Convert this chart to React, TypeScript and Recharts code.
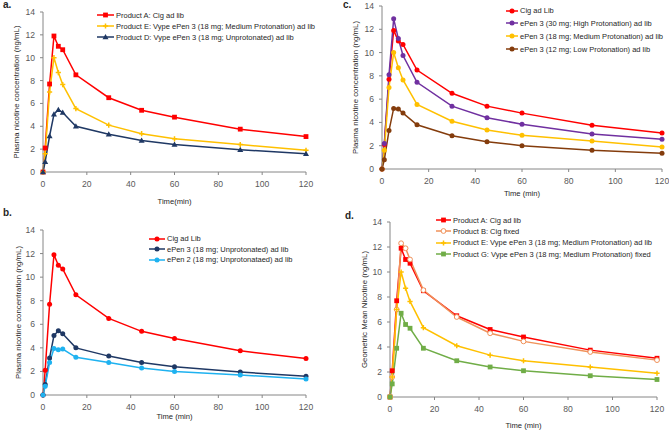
import React from 'react';
import { LineChart, Line, XAxis, YAxis } from 'recharts';

// sampling times (min) shared by every panel
const TIME_MIN = [0, 1, 3, 5, 7, 9, 15, 30, 45, 60, 90, 120];

// plasma nicotine, ng/mL
const CIG_AD_LIB = [0, 2.1, 7.7, 11.9, 11.0, 10.7, 8.5, 6.5, 5.4, 4.8, 3.75, 3.1];
const CIG_FIXED = [0, 1.6, 7.0, 12.3, 11.9, 11.0, 8.55, 6.4, 5.1, 4.45, 3.6, 2.95];
const EPEN3_MEDIUM = [0, 1.6, 7.0, 10.0, 8.7, 7.65, 5.55, 4.1, 3.35, 2.9, 2.4, 1.9];
const EPEN3_MEDIUM_FIXED = [0, 1.05, 3.9, 6.7, 5.8, 5.5, 3.9, 2.9, 2.4, 2.1, 1.7, 1.4];
const EPEN3_UNPROT = [0, 0.9, 3.15, 5.05, 5.45, 5.2, 4.0, 3.3, 2.75, 2.4, 1.95, 1.6];
const EPEN2_UNPROT = [0, 0.75, 2.75, 3.95, 3.85, 3.9, 3.2, 2.75, 2.3, 2.0, 1.7, 1.35];
const EPEN3_HIGH = [0, 2.2, 8.1, 12.9, 11.2, 9.75, 7.45, 5.4, 4.4, 3.85, 3.0, 2.55];
const EPEN3_LOW = [0, 0.8, 3.3, 5.2, 5.15, 4.8, 3.8, 2.85, 2.35, 2.0, 1.6, 1.35];

const X_TICKS = [0, 20, 40, 60, 80, 100, 120];
const Y_TICKS = [0, 2, 4, 6, 8, 10, 12, 14];

const rows = TIME_MIN.map((t, i) => ({
  t,
  cigAdLib: CIG_AD_LIB[i],
  cigFixed: CIG_FIXED[i],
  medium: EPEN3_MEDIUM[i],
  mediumFixed: EPEN3_MEDIUM_FIXED[i],
  unprot3: EPEN3_UNPROT[i],
  unprot2: EPEN2_UNPROT[i],
  high: EPEN3_HIGH[i],
  low: EPEN3_LOW[i],
}));

const FONT = '"Liberation Sans", Arial, sans-serif';
const AXIS = '#868686';
const TICK = '#595959';

type Marker = 'square' | 'triangle' | 'circle' | 'plus' | 'ring';
type Series = { key: string; name: string; color: string; marker: Marker };

const drawMarker = (m: Marker, cx: number, cy: number, color: string) => {
  switch (m) {
    case 'square':
      return <rect x={cx - 2.4} y={cy - 2.4} width={4.8} height={4.8} fill={color} />;
    case 'triangle':
      return <polygon points={`${cx},${cy - 3} ${cx - 3},${cy + 2.2} ${cx + 3},${cy + 2.2}`} fill={color} />;
    case 'plus':
      return (
        <path
          d={`M${cx - 2.6},${cy}H${cx + 2.6}M${cx},${cy - 2.6}V${cy + 2.6}`}
          stroke={color}
          strokeWidth={1.5}
        />
      );
    case 'ring':
      return <circle cx={cx} cy={cy} r={2.4} fill="#fff" stroke={color} strokeWidth={1} />;
    default:
      return <circle cx={cx} cy={cy} r={2.5} fill={color} />;
  }
};

const LegendBox = ({ series, x, y, rowH, lineW }: { series: Series[]; x: number; y: number; rowH: number; lineW: number }) => (
  <div style={{ position: 'absolute', left: x, top: y, fontFamily: FONT, fontSize: 7.5, color: '#262626' }}>
    {series.map(s => (
      <div key={s.key} style={{ display: 'flex', alignItems: 'center', height: rowH, whiteSpace: 'nowrap' }}>
        <svg width={lineW} height={8} style={{ marginRight: 2, display: 'block' }}>
          <line x1={0} y1={4} x2={lineW} y2={4} stroke={s.color} strokeWidth={1.5} />
          {drawMarker(s.marker, lineW / 2, 4, s.color)}
        </svg>
        <span>{s.name}</span>
      </div>
    ))}
  </div>
);

type PanelProps = {
  letter: string;
  letterPos: { x: number; y: number };
  left: number;
  top: number;
  width: number;
  height: number;
  plot: { l: number; r: number; t: number; b: number };
  xLabel: string;
  xLabelOffset: number;
  yLabel: string;
  yLabelX: number;
  series: Series[];
  legend: { x: number; y: number; rowH: number; lineW: number };
};

const Panel = (p: PanelProps) => (
  <div style={{ position: 'absolute', left: p.left, top: p.top, width: p.width, height: p.height }}>
    <LineChart
      width={p.width}
      height={p.height}
      data={rows}
      margin={{ top: p.plot.t, right: p.width - p.plot.r, bottom: p.height - p.plot.b - 30, left: 0 }}
      style={{ fontFamily: FONT }}
    >
      <XAxis
        dataKey="t"
        type="number"
        domain={[0, 120]}
        ticks={X_TICKS}
        height={30}
        stroke={AXIS}
        tickSize={3}
        tickMargin={6}
        tick={{ fill: TICK, fontSize: 8.6 }}
        label={{ value: p.xLabel, position: 'insideBottom', offset: p.xLabelOffset, fill: '#262626', fontSize: 7.6 }}
      />
      <YAxis
        type="number"
        domain={[0, 14]}
        ticks={Y_TICKS}
        interval={0}
        width={p.plot.l}
        stroke={AXIS}
        tickSize={3}
        tickMargin={5}
        tick={{ fill: TICK, fontSize: 8.6 }}
        label={{
          value: p.yLabel,
          angle: -90,
          position: 'insideLeft',
          offset: p.yLabelX,
          fill: '#262626',
          fontSize: 7.8,
          style: { textAnchor: 'middle' },
        }}
      />
      {p.series.map(s => (
        <Line
          key={s.key}
          type="linear"
          dataKey={s.key}
          name={s.name}
          stroke={s.color}
          strokeWidth={1.5}
          isAnimationActive={false}
          dot={(d: any) => <g key={`${s.key}-${d.index}`}>{drawMarker(s.marker, d.cx, d.cy, s.color)}</g>}
          activeDot={false}
        />
      ))}
    </LineChart>
    <LegendBox series={p.series} {...p.legend} />
    <div
      style={{
        position: 'absolute',
        left: p.letterPos.x,
        top: p.letterPos.y,
        fontFamily: FONT,
        fontWeight: 'bold',
        fontSize: 10,
        lineHeight: '10px',
        color: '#262626',
      }}
    >
      {p.letter}
    </div>
  </div>
);

const SERIES_A: Series[] = [
  { key: 'cigAdLib', name: 'Product A: Cig ad lib', color: '#FF0000', marker: 'square' },
  { key: 'medium', name: 'Product E: Vype ePen 3 (18 mg; Medium Protonation) ad lib', color: '#FFC000', marker: 'plus' },
  { key: 'unprot3', name: 'Product D: Vype ePen 3 (18 mg; Unprotonated) ad lib', color: '#1F3864', marker: 'triangle' },
];
const SERIES_B: Series[] = [
  { key: 'cigAdLib', name: 'Cig ad Lib', color: '#FF0000', marker: 'circle' },
  { key: 'unprot3', name: 'ePen 3 (18 mg; Unprotonated) ad lib', color: '#1F3864', marker: 'circle' },
  { key: 'unprot2', name: 'ePen 2 (18 mg; Unprotonataed) ad lib', color: '#1FB2F0', marker: 'circle' },
];
const SERIES_C: Series[] = [
  { key: 'cigAdLib', name: 'Cig ad Lib', color: '#FF0000', marker: 'circle' },
  { key: 'high', name: 'ePen 3 (30 mg; High Protonation) ad lib', color: '#7030A0', marker: 'circle' },
  { key: 'medium', name: 'ePen 3 (18 mg; Medium Protonation) ad lib', color: '#FFC000', marker: 'circle' },
  { key: 'low', name: 'ePen 3 (12 mg; Low Protonation) ad lib', color: '#843C0C', marker: 'circle' },
];
const SERIES_D: Series[] = [
  { key: 'cigAdLib', name: 'Product A: Cig ad lib', color: '#FF0000', marker: 'square' },
  { key: 'cigFixed', name: 'Product B: Cig fixed', color: '#F0925A', marker: 'ring' },
  { key: 'medium', name: 'Product E: Vype ePen 3 (18 mg; Medium Protonation) ad lib', color: '#FFC000', marker: 'plus' },
  { key: 'mediumFixed', name: 'Product G: Vype ePen 3 (18 mg; Medium Protonation) fixed', color: '#70AD47', marker: 'square' },
];

const PLASMA = 'Plasma nicotine concentration (ng/mL)';

export default function App() {
  return (
    <div style={{ position: 'absolute', left: 0, top: 0, width: 669, height: 431, background: '#fff', overflow: 'hidden' }}>
      <Panel
        letter="a."
        letterPos={{ x: 3, y: 0 }}
        left={0}
        top={0}
        width={335}
        height={210}
        plot={{ l: 43, r: 306, t: 12, b: 172 }}
        xLabel="Time(min)"
        xLabelOffset={-2}
        yLabel={PLASMA}
        yLabelX={16}
        series={SERIES_A}
        legend={{ x: 97, y: 9.5, rowH: 11.2, lineW: 17 }}
      />
      <Panel
        letter="b."
        letterPos={{ x: 3, y: -2 }}
        left={0}
        top={210}
        width={335}
        height={221}
        plot={{ l: 43, r: 306, t: 20, b: 185 }}
        xLabel="Time (min)"
        xLabelOffset={6}
        yLabel={PLASMA}
        yLabelX={18}
        series={SERIES_B}
        legend={{ x: 149, y: 23.8, rowH: 10.4, lineW: 16 }}
      />
      <Panel
        letter="c."
        letterPos={{ x: 8, y: 0 }}
        left={335}
        top={0}
        width={334}
        height={215}
        plot={{ l: 47, r: 327, t: 6, b: 169 }}
        xLabel="Time (min)"
        xLabelOffset={3}
        yLabel={PLASMA}
        yLabelX={20}
        series={SERIES_C}
        legend={{ x: 171, y: 4.3, rowH: 12.8, lineW: 12 }}
      />
      <Panel
        letter="d."
        letterPos={{ x: 10, y: -4 }}
        left={335}
        top={215}
        width={334}
        height={216}
        plot={{ l: 55, r: 322, t: 7, b: 182 }}
        xLabel="Time (min)"
        xLabelOffset={-1}
        yLabel="Geometric Mean Nicotine  (ng/mL)"
        yLabelX={29}
        series={SERIES_D}
        legend={{ x: 101, y: -0.7, rowH: 11.4, lineW: 15 }}
      />
    </div>
  );
}
